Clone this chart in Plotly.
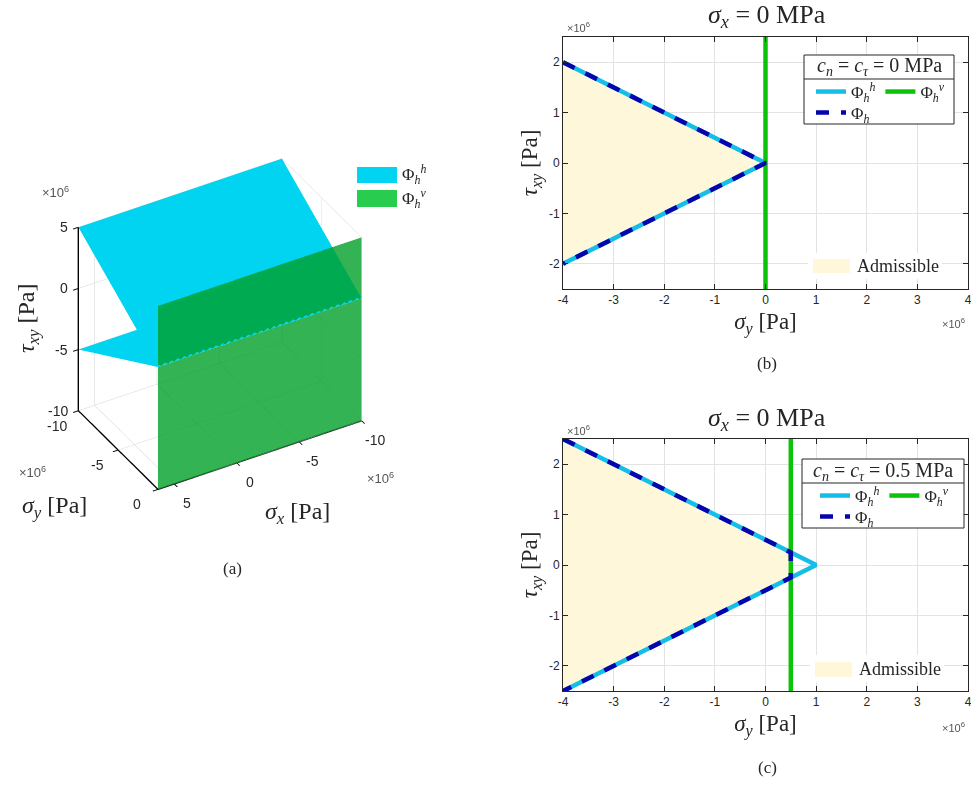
import plotly.graph_objects as go

W, H = 971, 785

# ---------------- Panel (a): 3D surfaces (values in 1e6 Pa) ----------------
sx_span = [6.3, -10]          # sigma_x extent of both planes
sy_span = [-10, 0]            # sigma_y extent of Phi_h^h sheets
tau_upper = [5, 0]            # Phi_h^h upper sheet: tau at sy_span
tau_lower = [-5, 0]           # Phi_h^h lower sheet: tau at sy_span
green_sy = 0                  # Phi_h^v plane position (sigma_y)
green_tau = [-10, 5]          # Phi_h^v plane tau extent
ticks3d_x = [-10, -5, 0, 5]
ticks3d_y = [-10, -5, 0]
ticks3d_z = [-10, -5, 0, 5]

# ---------------- Panel (b): c_n = c_tau = 0 MPa ----------------
b_hh_sy = [-4, 0, -4]
b_hh_tau = [2, 0, -2]
b_h_sy = [-4, 0, -4]
b_h_tau = [2, 0, -2]
b_hv_sy = [0, 0]
b_hv_tau = [-2.5, 2.5]

# ---------------- Panel (c): c_n = c_tau = 0.5 MPa ----------------
c_hh_sy = [-4, 1, -4]
c_hh_tau = [2.5, 0, -2.5]
c_h_sy = [-4, 0.5, 0.5, -4]
c_h_tau = [2.5, 0.25, -0.25, -2.5]
c_hv_sy = [0.5, 0.5]
c_hv_tau = [-2.5, 2.5]

ticks2d_x = [-4, -3, -2, -1, 0, 1, 2, 3, 4]
ticks2d_y = [-2, -1, 0, 1, 2]

CYAN3D = "rgb(0,212,240)"
GREEN3D = "rgb(0,160,40)"
CYAN = "rgb(20,190,230)"
BLUE = "rgb(5,5,175)"
GREEN = "rgb(10,195,10)"
FILL = "rgb(255,247,217)"
SERIF = "Liberation Serif, Times New Roman, serif"
SANS = "Liberation Sans, Arial, sans-serif"
TXT = "#262626"


def px(x):
    return x / W


def py(y):
    return 1 - y / H


def ttext(vals):
    return [str(v) for v in vals]


fig = go.Figure()

# ---- 3D surfaces
flat = dict(ambient=1, diffuse=0, specular=0, roughness=1, fresnel=0)
for tau in (tau_upper, tau_lower):
    fig.add_trace(go.Surface(
        x=sx_span, y=sy_span, z=[[t, t] for t in tau],
        colorscale=[[0, CYAN3D], [1, CYAN3D]], showscale=False, opacity=1,
        lighting=flat, hoverinfo="skip", scene="scene"))
fig.add_trace(go.Surface(
    x=[sx_span, sx_span], y=[[green_sy, green_sy], [green_sy, green_sy]],
    z=[[green_tau[0]] * 2, [green_tau[1]] * 2],
    colorscale=[[0, GREEN3D], [1, GREEN3D]], showscale=False, opacity=0.8,
    lighting=flat, hoverinfo="skip", scene="scene"))

# ---- 2D panels
lab_hh = "Φ<sub><i>h</i></sub><sup><i>h</i></sup>"
lab_hv = "Φ<sub><i>h</i></sub><sup><i>v</i></sup>"
lab_h = "Φ<sub><i>h</i></sub>"


def add_panel(xa, ya, leg1, leg2, hh_x, hh_y, h_x, h_y, hv_x, hv_y):
    fig.add_trace(go.Scatter(x=h_x + [h_x[0]], y=h_y + [h_y[0]], fill="toself",
                             fillcolor=FILL, mode="lines", line=dict(width=0, color=FILL),
                             name="Admissible", showlegend=False, xaxis=xa, yaxis=ya,
                             hoverinfo="skip"))
    fig.add_trace(go.Scatter(x=hh_x, y=hh_y, mode="lines", line=dict(color=CYAN, width=4.5),
                             name=lab_hh, legend=leg1, xaxis=xa, yaxis=ya))
    fig.add_trace(go.Scatter(x=hv_x, y=hv_y, mode="lines", line=dict(color=GREEN, width=4.5),
                             name=lab_hv, legend=leg1, xaxis=xa, yaxis=ya))
    fig.add_trace(go.Scatter(x=h_x, y=h_y, mode="lines",
                             line=dict(color=BLUE, width=4.5, dash="13px,12px"),
                             name=lab_h, legend=leg2, xaxis=xa, yaxis=ya))


add_panel("x", "y", "legend", "legend2", b_hh_sy, b_hh_tau, b_h_sy, b_h_tau, b_hv_sy, b_hv_tau)
add_panel("x2", "y2", "legend3", "legend4", c_hh_sy, c_hh_tau, c_h_sy, c_h_tau, c_hv_sy, c_hv_tau)

axis2d = dict(showgrid=True, gridcolor="#e3e3e3", gridwidth=1, zeroline=False,
              showline=True, linecolor=TXT, linewidth=1, mirror="allticks",
              ticks="inside", ticklen=5, tickcolor=TXT, ticklabeloverflow="allow",
              tickfont=dict(family=SANS, size=12, color=TXT))
xt = dict(text="<i>σ</i><sub><i>y</i></sub> [Pa]", font=dict(family=SERIF, size=23, color=TXT), standoff=6)
yt = dict(text="<i>τ</i><sub><i>xy</i></sub> [Pa]", font=dict(family=SERIF, size=23, color=TXT), standoff=4)

xdom = [px(563), px(968)]
layout = dict(
    width=W, height=H, margin=dict(l=0, r=0, t=0, b=0, autoexpand=False),
    paper_bgcolor="white", plot_bgcolor="white",
    xaxis=dict(domain=xdom, range=[-4, 4], tickvals=ticks2d_x, ticktext=ttext(ticks2d_x),
               anchor="y", title=xt, automargin=False, **axis2d),
    yaxis=dict(domain=[py(289), py(37)], range=[-2.5, 2.5], tickvals=ticks2d_y,
               ticktext=ttext(ticks2d_y), anchor="x", title=yt, automargin=False, **axis2d),
    xaxis2=dict(domain=xdom, range=[-4, 4], tickvals=ticks2d_x, ticktext=ttext(ticks2d_x),
                anchor="y2", title=xt, automargin=False, **axis2d),
    yaxis2=dict(domain=[py(691), py(439)], range=[-2.5, 2.5], tickvals=ticks2d_y,
                ticktext=ttext(ticks2d_y), anchor="x2", title=yt, automargin=False, **axis2d),
)

leg_common = dict(orientation="h", xanchor="left", yanchor="middle",
                  bgcolor="rgba(0,0,0,0)", borderwidth=0,
                  font=dict(family=SERIF, size=17, color=TXT), itemwidth=30)
layout["legend"] = dict(x=px(811), y=py(92), **leg_common)
layout["legend2"] = dict(x=px(811), y=py(113), **leg_common)
layout["legend3"] = dict(x=px(815), y=py(496), **leg_common)
layout["legend4"] = dict(x=px(815), y=py(517), **leg_common)

# ---- 3D scene
ax3d = dict(showbackground=False, gridcolor="#d4d4d4", gridwidth=1, showline=True,
            linecolor="black", linewidth=3, ticks="outside", ticklen=6, tickcolor="black",
            tickwidth=2, zeroline=False, showspikes=False, title=dict(text=""),
            showticklabels=False)
k = 1.123
x_lo, x_hi = min(sx_span), max(sx_span)
y_lo, y_hi = min(sy_span), max(sy_span)
z_lo, z_hi = min(green_tau), max(green_tau)

tick_ann = []
tf = dict(family=SANS, size=14, color=TXT)
for t in ticks3d_z:
    tick_ann.append(dict(x=x_hi, y=y_lo, z=t, text=str(t), showarrow=False, font=tf,
                         xanchor="right", xshift=-8, yshift=0))
for t in ticks3d_y:
    tick_ann.append(dict(x=x_hi, y=t, z=z_lo, text=str(t), showarrow=False, font=tf,
                         xanchor="center", xshift=-21, yshift=-15))
for t in ticks3d_x:
    tick_ann.append(dict(x=t, y=y_hi, z=z_lo, text=str(t), showarrow=False, font=tf,
                         xanchor="center", xshift=13, yshift=-19))

layout["scene"] = dict(
    domain=dict(x=[px(10), px(430)], y=[py(524), py(124)]),
    xaxis=dict(range=[x_lo, x_hi], tickvals=ticks3d_x, **ax3d),
    yaxis=dict(range=[y_lo, y_hi], tickvals=ticks3d_y, **ax3d),
    zaxis=dict(range=[z_lo, z_hi], tickvals=ticks3d_z, **ax3d),
    aspectmode="manual", aspectratio=dict(x=1.05 * k, y=0.703 * k, z=1.0 * k),
    camera=dict(eye=dict(x=0.412 * 1.6, y=0.705 * 1.6, z=0.577 * 1.6),
                up=dict(x=0, y=0, z=1), center=dict(x=0, y=0, z=0),
                projection=dict(type="orthographic")),
    annotations=tick_ann,
    dragmode=False,
)

fig.update_layout(**layout)


def prect(x0, y0, x1, y1, fill, line_w=0):
    return dict(type="rect", xref="paper", yref="paper", x0=px(x0), x1=px(x1),
                y0=py(y1), y1=py(y0), fillcolor=fill, layer="above",
                line=dict(color=TXT, width=line_w))


def pline(x0, x1, y):
    return dict(type="line", xref="paper", yref="paper", x0=px(x0), x1=px(x1),
                y0=py(y), y1=py(y), layer="above", line=dict(color=TXT, width=1))


shapes = [
    # legend boxes of (b) and (c)
    prect(804, 55, 954, 124, "white", 1), pline(804, 954, 79),
    prect(802, 459, 964, 528, "white", 1), pline(802, 964, 483),
    # "Admissible" legend entries
    prect(808, 253, 942, 279, "white"), prect(813, 259, 850, 273, FILL),
    prect(810, 655, 944, 682, "white"), prect(815, 662, 852, 677, FILL),
    # 3D legend swatches
    prect(357, 167, 397, 183, CYAN3D), prect(357, 190, 397, 207, "rgb(40,205,80)"),
]
fig.update_layout(shapes=shapes)

ann = []


def note(x, y, text, size, family=SERIF, color=TXT, xanchor="center", angle=0):
    ann.append(dict(x=px(x), y=py(y), xref="paper", yref="paper", text=text, showarrow=False,
                    font=dict(family=family, size=size, color=color), xanchor=xanchor,
                    yanchor="middle", textangle=angle))


title_txt = "<i>σ</i><sub><i>x</i></sub> = 0 MPa"
note(767, 16, title_txt, 26)
note(767, 419, title_txt, 26)
note(767, 363, "(b)", 17)
note(767, 767, "(c)", 17)
note(232, 568, "(a)", 17)
note(879, 67, "<i>c</i><sub><i>n</i></sub> = <i>c</i><sub><i>τ</i></sub> = 0 MPa", 20)
note(883, 471, "<i>c</i><sub><i>n</i></sub> = <i>c</i><sub><i>τ</i></sub> = 0.5 MPa", 20)
note(855, 266, "Admissible", 18, xanchor="left")
note(857, 669, "Admissible", 18, xanchor="left")
x6 = "×10<sup>6</sup>"
note(578, 27, x6, 11, SANS, "#555555")
note(953, 323, x6, 11, SANS, "#555555")
note(578, 430, x6, 11, SANS, "#555555")
note(953, 727, x6, 11, SANS, "#555555")
note(55, 192, x6, 13, SANS, "#555555")
note(32, 472, x6, 13, SANS, "#555555")
note(380, 478, x6, 13, SANS, "#555555")
note(54, 507, "<i>σ</i><sub><i>y</i></sub> [Pa]", 24)
note(297, 513, "<i>σ</i><sub><i>x</i></sub> [Pa]", 24)
note(28, 319, "<i>τ</i><sub><i>xy</i></sub> [Pa]", 24, angle=-90)
note(400, 175, lab_hh, 17, xanchor="left")
note(400, 199, lab_hv, 17, xanchor="left")
fig.update_layout(annotations=ann)

fig.write_html("out.html")
